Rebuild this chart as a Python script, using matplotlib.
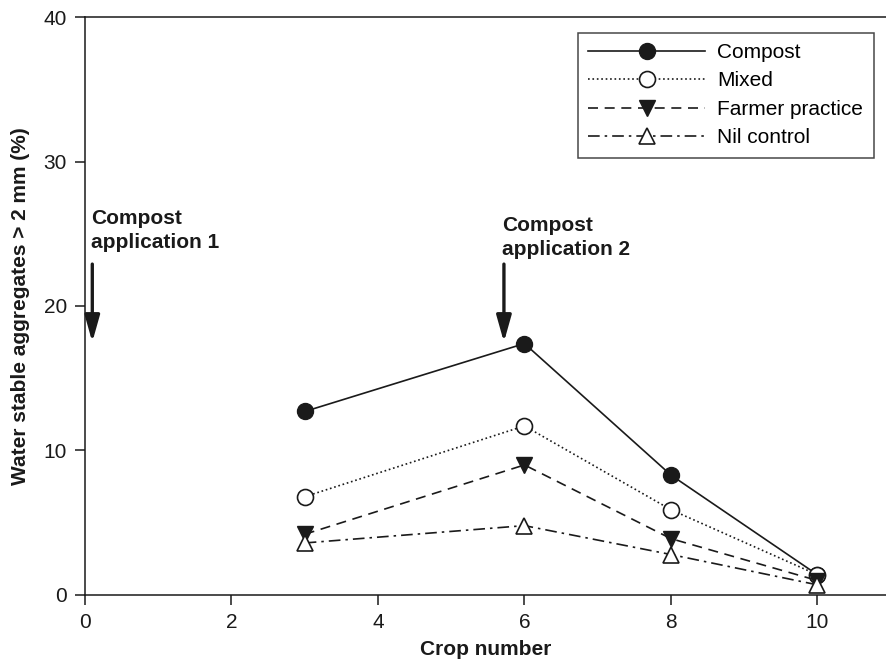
import matplotlib.pyplot as plt

plt.rcParams['font.family'] = ['Liberation Sans', 'DejaVu Sans']

crop = [3, 6, 8, 10]
compost = [12.7, 17.4, 8.3, 1.4]
mixed = [6.8, 11.7, 5.9, 1.4]
farmer = [4.2, 9.0, 3.9, 1.0]
nil = [3.6, 4.8, 2.8, 0.7]

xticks = [0, 2, 4, 6, 8, 10]
yticks = [0, 10, 20, 30, 40]

ink = '#1a1a1a'

fig = plt.figure(figsize=(8.87, 6.65), dpi=100)
ax = fig.add_axes([0.0958, 0.1053, 0.9042, 0.8691])

ms = 11.5
ax.plot(crop, compost, '-', color=ink, lw=1.2, marker='o', ms=ms,
        mfc=ink, mec=ink, label='Compost')
ax.plot(crop, mixed, ':', color=ink, lw=1.2, marker='o', ms=ms,
        mfc='white', mec=ink, mew=1.2, label='Mixed')
ax.plot(crop, farmer, color=ink, lw=1.2, dashes=(6, 4), marker='v', ms=ms,
        mfc=ink, mec=ink, label='Farmer practice')
ax.plot(crop, nil, color=ink, lw=1.2, dashes=(7, 3, 1.5, 3), marker='^', ms=ms,
        mfc='white', mec=ink, mew=1.2, label='Nil control')

# compost application arrows
for xa, ty, lab in [(0.1, 26.7, 'Compost\napplication 1'),
                    (5.72, 26.2, 'Compost\napplication 2')]:
    ax.annotate('', xy=(xa, 17.5), xytext=(xa, 22.9),
                arrowprops=dict(arrowstyle='-|>,head_length=1.6,head_width=0.45',
                                color=ink, lw=2.4, shrinkA=0, shrinkB=0))
    ax.text(xa - 0.02, ty, lab, fontsize=15, fontweight='bold', color=ink,
            va='top', ha='left', linespacing=1.3)

ax.set_xlim(0, 10.95)
ax.set_ylim(0, 40)
ax.set_xticks(xticks)
ax.set_yticks(yticks)
ax.tick_params(direction='out', length=7, width=1.1, colors=ink,
               labelsize=15, pad=6)
for s in ['left', 'bottom', 'top']:
    ax.spines[s].set_color(ink)
    ax.spines[s].set_linewidth(1.1)
ax.spines['right'].set_visible(False)

ax.set_xlabel('Crop number', fontsize=15, fontweight='bold', color=ink, labelpad=6)
ax.set_ylabel('Water stable aggregates > 2 mm (%)', fontsize=15,
              fontweight='bold', color=ink, labelpad=10)

leg = ax.legend(loc='upper right', bbox_to_anchor=(0.9835, 0.973), fontsize=15,
                frameon=True, fancybox=False, edgecolor=ink, handlelength=5.6,
                handletextpad=0.6, labelspacing=0.45, borderpad=0.5,
                borderaxespad=0)
leg.get_frame().set_linewidth(1.1)

fig.savefig('out.png', dpi=100)
